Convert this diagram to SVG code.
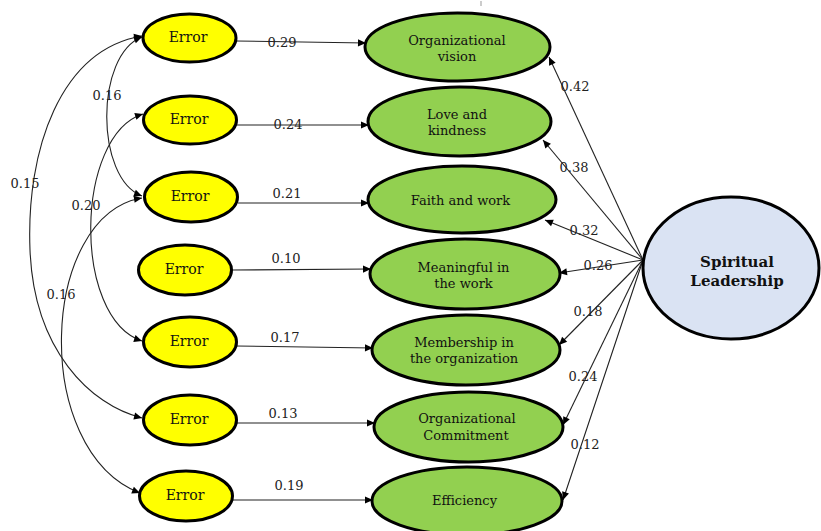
<svg xmlns="http://www.w3.org/2000/svg" width="821" height="531" viewBox="0 0 821 531" font-family="DejaVu Serif, serif">
<style>
.err{fill:#FFFF00;stroke:#000;stroke-width:3}
.fac{fill:#92D050;stroke:#000;stroke-width:3}
.lat{fill:#DAE3F3;stroke:#000;stroke-width:3}
.t{fill:#111;text-anchor:middle}
.et{font-size:14px}
.ft{font-size:13px}
.lt{font-size:15px;font-weight:bold}
.el{font-size:13px;fill:#222;text-anchor:middle}
.c{fill:none;stroke:#222;stroke-width:1.1}
.a{marker-end:url(#ah)}
.d{marker-start:url(#ah);marker-end:url(#ah)}
</style>
<defs>
<marker id="ah" viewBox="0 0 10 10" refX="10" refY="5" markerWidth="11" markerHeight="8" markerUnits="userSpaceOnUse" orient="auto-start-reverse">
<path d="M0,0.5 L10,5 L0,9.5 z" fill="#000"/>
</marker>
</defs>
<line x1="481" y1="1" x2="481" y2="6" stroke="#999" stroke-width="1"/>
<g id="connectors">
<path class="c d" d="M142,36 C60,50 26,150 30,250 C34,350 90,405 142,418"/>
<path class="c d" d="M142,37 C95,55 95,178 142,196"/>
<path class="c d" d="M143,114 C75,135 72,318 142,341"/>
<path class="c d" d="M142,198 C40,215 30,450 140,493"/>
<line class="c a" x1="236" y1="41" x2="366" y2="43"/>
<line class="c a" x1="237" y1="125" x2="369" y2="125"/>
<line class="c a" x1="238" y1="203" x2="369" y2="203"/>
<line class="c a" x1="232" y1="270" x2="371" y2="269"/>
<line class="c a" x1="236" y1="346" x2="373" y2="348"/>
<line class="c a" x1="237" y1="423" x2="375" y2="423"/>
<line class="c a" x1="232" y1="500" x2="373" y2="500"/>
<line class="c a" x1="643" y1="260" x2="549" y2="57"/>
<line class="c a" x1="643" y1="260" x2="543" y2="140"/>
<line class="c a" x1="643" y1="260" x2="545" y2="220"/>
<line class="c a" x1="643" y1="260" x2="559" y2="273"/>
<line class="c a" x1="643" y1="260" x2="559" y2="345"/>
<line class="c a" x1="643" y1="260" x2="563" y2="425"/>
<line class="c a" x1="643" y1="260" x2="563" y2="500"/>
<text class="el" x="107" y="100">0.16</text>
<text class="el" x="25" y="188">0.15</text>
<text class="el" x="86" y="210">0.20</text>
<text class="el" x="61" y="299">0.16</text>
<text class="el" x="282" y="47">0.29</text>
<text class="el" x="288" y="129">0.24</text>
<text class="el" x="287" y="198">0.21</text>
<text class="el" x="286" y="263">0.10</text>
<text class="el" x="285" y="342">0.17</text>
<text class="el" x="283" y="418">0.13</text>
<text class="el" x="289" y="490">0.19</text>
<text class="el" x="575" y="91">0.42</text>
<text class="el" x="574" y="172">0.38</text>
<text class="el" x="584" y="235">0.32</text>
<text class="el" x="598" y="270">0.26</text>
<text class="el" x="588" y="316">0.18</text>
<text class="el" x="583" y="381">0.24</text>
<text class="el" x="585" y="449">0.12</text>
</g>
<g id="e1"><ellipse class="err" cx="189.5" cy="38" rx="46.5" ry="24"/><text class="t et" x="188" y="42">Error</text></g>
<g id="e2"><ellipse class="err" cx="190" cy="120" rx="46.5" ry="24"/><text class="t et" x="189" y="124">Error</text></g>
<g id="e3"><ellipse class="err" cx="191" cy="197" rx="46.5" ry="25"/><text class="t et" x="190" y="201">Error</text></g>
<g id="e4"><ellipse class="err" cx="185" cy="270" rx="46.5" ry="25"/><text class="t et" x="184" y="274">Error</text></g>
<g id="e5"><ellipse class="err" cx="190" cy="342" rx="46.5" ry="25"/><text class="t et" x="189" y="346">Error</text></g>
<g id="e6"><ellipse class="err" cx="190" cy="420" rx="46.5" ry="25"/><text class="t et" x="189" y="424">Error</text></g>
<g id="e7"><ellipse class="err" cx="186" cy="496" rx="46.5" ry="25"/><text class="t et" x="185" y="500">Error</text></g>
<g id="f1"><ellipse class="fac" cx="457.5" cy="47" rx="92.5" ry="34"/><text class="t ft" x="457" y="45">Organizational</text><text class="t ft" x="457" y="61">vision</text></g>
<g id="f2"><ellipse class="fac" cx="459.5" cy="121.5" rx="91.5" ry="34.5"/><text class="t ft" x="457" y="119">Love and</text><text class="t ft" x="457" y="135">kindness</text></g>
<g id="f3"><ellipse class="fac" cx="462" cy="199.5" rx="94" ry="33.5"/><text class="t ft" x="460.5" y="205">Faith and work</text></g>
<g id="f4"><ellipse class="fac" cx="465" cy="274" rx="95" ry="35"/><text class="t ft" x="463.5" y="272">Meaningful in</text><text class="t ft" x="463.5" y="288">the work</text></g>
<g id="f5"><ellipse class="fac" cx="466" cy="350" rx="94" ry="35"/><text class="t ft" x="464" y="347">Membership in</text><text class="t ft" x="464" y="363">the organization</text></g>
<g id="f6"><ellipse class="fac" cx="468.5" cy="427" rx="94.5" ry="35"/><text class="t ft" x="467" y="423">Organizational</text><text class="t ft" x="466" y="440">Commitment</text></g>
<g id="f7"><ellipse class="fac" cx="467" cy="501" rx="95" ry="34"/><text class="t ft" x="464.5" y="505">Efficiency</text></g>
<g id="sl"><ellipse class="lat" cx="731" cy="268" rx="88" ry="71"/><text class="t lt" x="737" y="267">Spiritual</text><text class="t lt" x="737" y="286">Leadership</text></g>
</svg>
